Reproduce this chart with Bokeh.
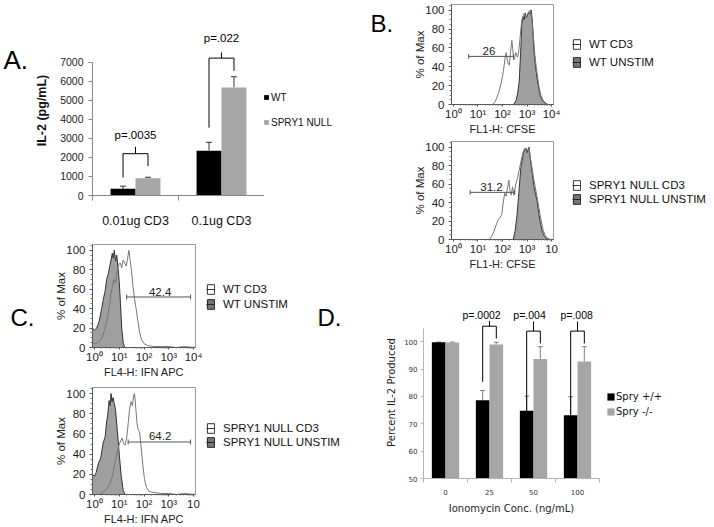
from bokeh.plotting import figure
from bokeh.layouts import row, column
from bokeh.models import (Range1d, FixedTicker, Legend, LegendItem,
                          ColumnDataSource, Whisker, TeeHead)
from bokeh.core.properties import value
from bokeh.embed import file_html
from bokeh.resources import INLINE

ARIAL = "Liberation Sans"
VERD = "DejaVu Sans"
NAN = float("nan")

# ---------------- Panel A data ----------------
a_groups = ["0.01ug CD3", "0.1ug CD3"]
a_wt = [350, 2360]
a_wt_err = [140, 440]
a_null = [910, 5690]
a_null_err = [50, 560]
a_yticks = [0, 1000, 2000, 3000, 4000, 5000, 6000, 7000]
a_series = ["WT", "SPRY1 NULL"]
a_pvals = ["p=.0035", "p=.022"]
a_br_top = [2200, 7230]
a_br_left = [950, 3570]
a_br_right = [1550, 6560]
a_br_tick = [2560, 7530]
a_p_y = [3210, 8300]

# ---------------- Panel B / C histogram data (log10 of intensity, % of max) ----------------
b1_unstim_log = [2.45, 2.55, 2.62, 2.68, 2.74, 2.79, 2.84, 2.88, 2.93, 2.97, 3.02, 3.07, 3.12,
                 3.17, 3.22, 3.28, 3.34, 3.41, 3.48, 3.54, 3.61, 3.67, 3.75, 3.85]
b1_unstim_pct = [0, 4, 12, 24, 55, 86, 93, 90, 97, 92, 95, 98, 96, 100, 88, 59, 42, 28, 17, 10,
                 5, 3, 1, 0]
b1_cd3_log = [1.6, 1.7, 1.78, 1.86, 1.94, 2.0, 2.06, 2.11, 2.15, 2.19, 2.23, 2.28, 2.33, 2.38,
              2.42, 2.46, 2.5, 2.54, 2.58, 2.62, 2.67, 2.71, 2.75, 2.79, 2.84, 2.9, 2.96, 3.02,
              3.08, 3.14, 3.2, 3.26, 3.32, 3.4, 3.48, 3.56, 3.64, 3.74, 3.85]
b1_cd3_pct = [0, 3, 8, 14, 22, 30, 40, 50, 55, 48, 43, 42, 56, 68, 58, 47, 50, 55, 52, 50, 58,
              69, 80, 90, 94, 97, 92, 95, 99, 100, 88, 72, 52, 35, 20, 10, 5, 2, 0]

b2_unstim_log = [2.44, 2.52, 2.59, 2.65, 2.7, 2.75, 2.8, 2.85, 2.9, 2.95, 3.0, 3.04, 3.08, 3.12,
                 3.17, 3.22, 3.28, 3.34, 3.41, 3.48, 3.55, 3.62, 3.7, 3.8, 3.92]
b2_unstim_pct = [0, 10, 26, 45, 62, 78, 85, 93, 97, 99, 94, 97, 100, 90, 80, 70, 58, 50, 42, 28,
                 17, 9, 4, 1, 0]
b2_cd3_log = [1.45, 1.55, 1.64, 1.73, 1.82, 1.9, 1.97, 2.03, 2.09, 2.15, 2.2, 2.26, 2.31, 2.36,
              2.41, 2.46, 2.51, 2.56, 2.62, 2.68, 2.74, 2.8, 2.86, 2.92, 2.98, 3.03, 3.08, 3.14,
              3.2, 3.27, 3.34, 3.42, 3.5, 3.58, 3.66, 3.75, 3.86, 3.95]
b2_cd3_pct = [0, 3, 8, 15, 21, 24, 27, 40, 50, 47, 55, 64, 52, 48, 57, 48, 55, 62, 67, 75, 83,
              90, 96, 99, 95, 97, 100, 88, 78, 66, 56, 44, 32, 20, 10, 4, 1, 0]

c1_unstim_log = [-0.08, 0.0, 0.09, 0.19, 0.29, 0.36, 0.43, 0.49, 0.56, 0.62, 0.67, 0.72, 0.76,
                 0.8, 0.85, 0.9, 0.95, 1.0, 1.05, 1.1, 1.16, 1.22]
c1_unstim_pct = [20, 18, 20, 27, 40, 50, 58, 70, 76, 84, 90, 97, 92, 100, 89, 95, 82, 68, 45,
                 20, 5, 0]
c1_cd3_log = [-0.08, 0.05, 0.16, 0.29, 0.38, 0.46, 0.53, 0.6, 0.66, 0.72, 0.78, 0.85, 0.92,
              0.98, 1.04, 1.1, 1.16, 1.22, 1.28, 1.34, 1.39, 1.44, 1.5, 1.56, 1.62, 1.68, 1.75,
              1.82, 1.9, 2.0, 2.15, 2.4, 2.7, 3.0, 3.3, 3.6, 4.08]
c1_cd3_pct = [4, 4, 6, 9, 16, 23, 32, 42, 55, 62, 70, 66, 80, 85, 87, 82, 90, 87, 84, 92, 100,
              90, 78, 62, 50, 40, 28, 16, 8, 4, 2, 1, 1, 1, 0, 1, 0]

c2_unstim_log = [-0.08, 0.0, 0.07, 0.16, 0.25, 0.35, 0.43, 0.49, 0.54, 0.59, 0.63, 0.67, 0.71,
                 0.75, 0.8, 0.85, 0.92, 1.0, 1.08, 1.16, 1.24]
c2_unstim_pct = [20, 18, 22, 31, 36, 51, 57, 72, 80, 93, 88, 100, 92, 96, 90, 84, 64, 40, 18,
                 4, 0]
c2_cd3_log = [0.2, 0.35, 0.5, 0.62, 0.72, 0.82, 0.92, 1.0, 1.06, 1.12, 1.18, 1.24, 1.3, 1.36,
              1.42, 1.48, 1.53, 1.58, 1.62, 1.67, 1.72, 1.77, 1.82, 1.88, 1.95, 2.02, 2.1, 2.2,
              2.4, 2.7, 3.0, 3.3, 3.6, 4.08]
c2_cd3_pct = [0, 2, 6, 10, 18, 30, 42, 50, 53, 56, 50, 49, 56, 70, 85, 92, 88, 98, 100, 85, 70,
              64, 62, 48, 30, 15, 7, 3, 2, 1, 1, 0, 1, 0]

# gates: (log start, log end, % level), label text, label log position
b1_gate, b1_gate_lbl = (0.62, 2.45, 51), ("26", 1.45)
b2_gate, b2_gate_lbl = (0.68, 2.5, 51), ("31.2", 1.55)
c1_gate, c1_gate_lbl = (1.3, 3.88, 52), ("42.4", 2.65)
c2_gate, c2_gate_lbl = (1.36, 3.88, 52), ("64.2", 2.65)

flow_yticks = [0, 20, 40, 60, 80, 100]
flow_xticks = [1, 10, 100, 1000, 10000]
flow_xlabels = ["10\u2070", "10\u00b9", "10\u00b2", "10\u00b3", "10\u2074"]

# ---------------- Panel D data ----------------
d_conc = ["0", "25", "50", "100"]
d_wt = [99.8, 78.6, 74.8, 73.1]
d_wt_err = [0.1, 3.6, 5.3, 6.8]
d_ko = [99.7, 99.0, 93.7, 92.8]
d_ko_err = [0.2, 0.8, 4.5, 5.4]
d_series = ["Spry +/+", "Spry -/-"]
d_yticks = [50, 60, 70, 80, 90, 100]
d_pvals = ["p=.0002", "p=.004", "p=.008"]
d_p_idx = [1, 2, 3]
d_p_x = [1.32, 2.41, 3.48]
d_p_y = [109.8, 109.8, 109.8]
d_br_top = [105.7, 103.9, 103.9]
d_br_left = [85.4, 72.0, 71.4]
d_br_right = [101.2, 99.4, 99.4]
d_br_tick = [107.6, 107.4, 107.4]

panel_letters = ["A.", "B.", "C.", "D."]


def base_fig(w, h, bl, br, bt, bb, **kw):
    p = figure(width=w, height=h, output_backend="svg", toolbar_location=None, title=None,
               min_border_left=bl, min_border_right=br, min_border_top=bt,
               min_border_bottom=bb, frame_align=False, **kw)
    p.grid.visible = False
    p.background_fill_color = "white"
    p.border_fill_color = "white"
    return p


def blank_fig(w, h):
    p = figure(width=w, height=h, output_backend="svg", toolbar_location=None, title=None,
               x_range=Range1d(0, w), y_range=Range1d(h, 0), x_axis_location=None,
               y_axis_location=None, min_border=0, frame_align=False)
    p.grid.visible = False
    p.outline_line_color = None
    return p


def letter_fig(w, h, text, x, y, size):
    p = blank_fig(w, h)
    p.text(x=[x], y=[y], text=[text], text_font=value(ARIAL), text_font_size=value(size),
           text_baseline="alphabetic", text_align="left", text_color="black")
    return p


def legend_fig(w, h, labels, swatches, loc, glyph, label_h, spacing, standoff, font, size):
    """Blank canvas holding a real bokeh Legend (swatch renderers carry no visible data)."""
    p = blank_fig(w, h)
    items = []
    for lab, sw in zip(labels, swatches):
        fill, line, mid = sw
        rs = [p.patch(x=[NAN], y=[NAN], fill_color=fill, line_color=line)]
        if mid is not None:
            rs.append(p.line(x=[NAN], y=[NAN], line_color=mid, line_width=1))
        items.append(LegendItem(label=lab, renderers=rs))
    p.add_layout(Legend(items=items, location=loc, glyph_width=glyph[0], glyph_height=glyph[1],
                        label_height=label_h, label_width=10, spacing=spacing, padding=0,
                        margin=0, label_standoff=standoff, border_line_color=None,
                        background_fill_alpha=0, label_text_font=font,
                        label_text_font_size=size, label_text_color="#111111"))
    return p


FLOW_SWATCH = [("white", "#333333", "#333333"), ("#777777", "#222222", "#222222")]

# ================= Panel A =================
pA = base_fig(234, 238, 62, 0, 25, 43, x_range=Range1d(0, 2), y_range=Range1d(0, 8947))
pA.outline_line_color = None
off, bw = 0.145, 0.29
a_cx = [i + 0.5 for i in range(len(a_groups))]
srcA_wt = ColumnDataSource(dict(x=[c - off for c in a_cx], top=a_wt,
                                upper=[v + e for v, e in zip(a_wt, a_wt_err)]))
srcA_nu = ColumnDataSource(dict(x=[c + off for c in a_cx], top=a_null,
                                upper=[v + e for v, e in zip(a_null, a_null_err)]))
pA.vbar(x="x", top="top", width=bw, source=srcA_wt, fill_color="#000000", line_color=None)
pA.vbar(x="x", top="top", width=bw, source=srcA_nu, fill_color="#a6a6a6", line_color=None)
for s in (srcA_wt, srcA_nu):
    pA.add_layout(Whisker(source=s, base="x", upper="upper", lower="top", line_color="#333333",
                          upper_head=TeeHead(size=6, line_color="#333333"), lower_head=None))
xsA, ysA = [], []
for i, c in enumerate(a_cx):
    xsA.append([c - off, c - off, c + off, c + off])
    ysA.append([a_br_left[i], a_br_top[i], a_br_top[i], a_br_right[i]])
    xsA.append([c, c])
    ysA.append([a_br_top[i], a_br_tick[i]])
pA.multi_line(xs=xsA, ys=ysA, line_color="black", line_width=1)
pA.text(x=a_cx, y=a_p_y, text=a_pvals, text_align="center", text_baseline="middle",
        text_font=value(ARIAL), text_font_size=value("11.5px"), text_color="black")

ya = pA.yaxis[0]
ya.ticker = FixedTicker(ticks=a_yticks, minor_ticks=[])
ya.bounds = (0, 7000)
ya.axis_line_color = "#868686"
ya.major_tick_line_color = "#868686"
ya.major_tick_out, ya.major_tick_in = 4, 0
ya.major_label_standoff = 5
ya.major_label_text_font = ARIAL
ya.major_label_text_font_size = "10.5px"
ya.major_label_text_color = "#222222"
ya.axis_label = "IL-2 (pg/mL)"
ya.axis_label_text_font = ARIAL
ya.axis_label_text_font_style = "bold"
ya.axis_label_text_font_size = "12.5px"
ya.axis_label_text_color = "#111111"
ya.axis_label_standoff = 8

xa = pA.xaxis[0]
xa.ticker = FixedTicker(ticks=a_cx, minor_ticks=[0, 1, 2])
xa.bounds = (0, 2)
xa.axis_line_color = "#868686"
xa.major_tick_out, xa.major_tick_in = 0, 0
xa.minor_tick_out, xa.minor_tick_in = 5, 0
xa.minor_tick_line_color = "#868686"
xa.major_label_overrides = {c: g for c, g in zip(a_cx, a_groups)}
xa.major_label_standoff = 13
xa.major_label_text_font = ARIAL
xa.major_label_text_font_size = "12.5px"
xa.major_label_text_color = "#111111"

legA = legend_fig(96, 238, a_series, [("#000000", None, None), ("#a6a6a6", None, None)],
                  (-1, 110), (6, 6), 12, 13, 2, ARIAL, "10px")


# ================= Flow panels =================
def flow_panel(w, h, borders, cd3_log, cd3_pct, un_log, un_pct, gate, gate_lbl, xlabel,
               last_tick):
    bl, br, bt, bb = borders
    p = base_fig(w, h, bl, br, bt, bb, x_axis_type="log",
                 x_range=Range1d(10 ** -0.08, 10 ** 4.08), y_range=Range1d(0, 106))
    p.outline_line_color = "#9a9a9a"
    ux = [10 ** v for v in un_log]
    p.varea(x=ux, y1=[0] * len(ux), y2=un_pct, fill_color="#9f9f9f")
    p.line(ux, un_pct, line_color="#333333", line_width=1)
    cx = [10 ** v for v in cd3_log]
    p.line(cx, cd3_pct, line_color="#777777", line_width=1)
    g0, g1, gy = gate
    p.segment(x0=[10 ** g0], y0=[gy], x1=[10 ** g1], y1=[gy], line_color="#555555", line_width=1)
    p.segment(x0=[10 ** g0, 10 ** g1], y0=[gy - 2.5] * 2, x1=[10 ** g0, 10 ** g1],
              y1=[gy + 2.5] * 2, line_color="#555555", line_width=1)
    p.text(x=[10 ** gate_lbl[1]], y=[gy + 1.5], text=[gate_lbl[0]], text_align="center",
           text_baseline="bottom", text_font=value(ARIAL), text_font_size=value("11.5px"),
           text_color="#222222")
    yx = p.yaxis[0]
    yx.ticker = FixedTicker(ticks=flow_yticks, minor_ticks=[v for v in range(0, 106, 5) if v % 20])
    yx.axis_line_color = "#555555"
    yx.major_tick_line_color = "#555555"
    yx.minor_tick_line_color = "#777777"
    yx.major_tick_out, yx.major_tick_in = 3, 0
    yx.minor_tick_out, yx.minor_tick_in = 2, 0
    yx.major_label_standoff = 4
    yx.major_label_text_font = ARIAL
    yx.major_label_text_font_size = "11.5px"
    yx.major_label_text_color = "#222222"
    yx.axis_label = "% of Max"
    yx.axis_label_text_font = ARIAL
    yx.axis_label_text_font_style = "normal"
    yx.axis_label_text_font_size = "11.5px"
    yx.axis_label_text_color = "#222222"
    yx.axis_label_standoff = -4
    xx = p.xaxis[0]
    xx.ticker = FixedTicker(ticks=flow_xticks,
                            minor_ticks=[m * 10 ** k for k in range(4) for m in range(2, 10)])
    labels = list(flow_xlabels)
    labels[-1] = last_tick
    xx.major_label_overrides = {t: l for t, l in zip(flow_xticks, labels)}
    xx.axis_line_color = "#555555"
    xx.major_tick_line_color = "#555555"
    xx.minor_tick_line_color = "#777777"
    xx.major_tick_out, xx.major_tick_in = 2, 0
    xx.minor_tick_out, xx.minor_tick_in = 1, 0
    xx.major_label_standoff = 1
    xx.major_label_text_font = ARIAL
    xx.major_label_text_font_size = "11.5px"
    xx.major_label_text_color = "#222222"
    xx.axis_label = xlabel
    xx.axis_label_text_font = ARIAL
    xx.axis_label_text_font_style = "normal"
    xx.axis_label_text_font_size = "11px"
    xx.axis_label_text_color = "#222222"
    xx.axis_label_standoff = 0
    return p


pB1 = flow_panel(156, 137, (41, 13, 4, 30), b1_cd3_log, b1_cd3_pct, b1_unstim_log,
                 b1_unstim_pct, b1_gate, b1_gate_lbl, "FL1-H: CFSE", flow_xlabels[-1])
legB1 = legend_fig(148, 137, ["WT CD3", "WT UNSTIM"], FLOW_SWATCH, (6, 69), (9, 12), 13, 5, 8,
                   ARIAL, "11.5px")
pB2 = flow_panel(206, 135, (91, 13, 4, 30), b2_cd3_log, b2_cd3_pct, b2_unstim_log,
                 b2_unstim_pct, b2_gate, b2_gate_lbl, "FL1-H: CFSE", "10")
legB2 = legend_fig(148, 135, ["SPRY1 NULL CD3", "SPRY1 NULL UNSTIM"], FLOW_SWATCH, (6, 67),
                   (9, 12), 13, 1, 8, ARIAL, "11.5px")
pC1 = flow_panel(169, 142, (55, 11, 6, 31), c1_cd3_log, c1_cd3_pct, c1_unstim_log,
                 c1_unstim_pct, c1_gate, c1_gate_lbl, "FL4-H: IFN APC", flow_xlabels[-1])
legC1 = legend_fig(109, 142, ["WT CD3", "WT UNSTIM"], FLOW_SWATCH, (0, 70), (9, 12), 13, 2, 8,
                   ARIAL, "11.5px")
pC2 = flow_panel(206, 147, (92, 11, 7, 33), c2_cd3_log, c2_cd3_pct, c2_unstim_log,
                 c2_unstim_pct, c2_gate, c2_gate_lbl, "FL4-H: IFN APC", "10")
legC2 = legend_fig(154, 147, ["SPRY1 NULL CD3", "SPRY1 NULL UNSTIM"], FLOW_SWATCH, (0, 79),
                   (9, 12), 13, 1, 8, ARIAL, "11.5px")

# ================= Panel D =================
pD = base_fig(240, 255, 63, 1, 34, 49, x_range=Range1d(0, 4), y_range=Range1d(50, 112.9))
pD.outline_line_color = None
doff, dbw = 0.155, 0.31
d_cx = [i + 0.5 for i in range(len(d_conc))]
srcD_wt = ColumnDataSource(dict(x=[c - doff for c in d_cx], top=d_wt,
                                upper=[v + e for v, e in zip(d_wt, d_wt_err)]))
srcD_ko = ColumnDataSource(dict(x=[c + doff for c in d_cx], top=d_ko,
                                upper=[v + e for v, e in zip(d_ko, d_ko_err)]))
pD.vbar(x="x", top="top", bottom=50, width=dbw, source=srcD_wt,
        fill_color="#000000", line_color=None)
pD.vbar(x="x", top="top", bottom=50, width=dbw, source=srcD_ko,
        fill_color="#a6a6a6", line_color=None)
for s in (srcD_wt, srcD_ko):
    pD.add_layout(Whisker(source=s, base="x", upper="upper", lower="top", line_color="#808080",
                          upper_head=TeeHead(size=5, line_color="#808080"), lower_head=None))
xsD, ysD = [], []
for k, i in enumerate(d_p_idx):
    c = d_cx[i]
    xsD.append([c - doff, c - doff, c + doff, c + doff])
    ysD.append([d_br_left[k], d_br_top[k], d_br_top[k], d_br_right[k]])
    xsD.append([c, c])
    ysD.append([d_br_top[k], d_br_tick[k]])
pD.multi_line(xs=xsD, ys=ysD, line_color="black", line_width=1)
pD.text(x=d_p_x, y=d_p_y, text=d_pvals, text_align="center", text_baseline="middle",
        text_font=value(ARIAL), text_font_size=value("10.5px"), text_color="black")

yd = pD.yaxis[0]
yd.ticker = FixedTicker(ticks=d_yticks, minor_ticks=[])
yd.bounds = (50, 105)
yd.axis_line_color = "#b5b5b5"
yd.major_tick_line_color = "#b5b5b5"
yd.major_tick_out, yd.major_tick_in = 3, 0
yd.major_label_standoff = 3
yd.major_label_text_font = VERD
yd.major_label_text_font_size = "7px"
yd.major_label_text_color = "#333333"
yd.axis_label = "Percent IL-2 Produced"
yd.axis_label_text_font = VERD
yd.axis_label_text_font_style = "normal"
yd.axis_label_text_font_size = "10px"
yd.axis_label_text_color = "#222222"
yd.axis_label_standoff = 4

xd = pD.xaxis[0]
xd.ticker = FixedTicker(ticks=d_cx, minor_ticks=[0, 1, 2, 3, 4])
xd.bounds = (0, 4)
xd.axis_line_color = "#b5b5b5"
xd.major_tick_out, xd.major_tick_in = 0, 0
xd.minor_tick_out, xd.minor_tick_in = 4, 0
xd.minor_tick_line_color = "#b5b5b5"
xd.major_label_overrides = {c: t for c, t in zip(d_cx, d_conc)}
xd.major_label_standoff = 6
xd.major_label_text_font = VERD
xd.major_label_text_font_size = "7px"
xd.major_label_text_color = "#333333"
xd.axis_label = "Ionomycin Conc. (ng/mL)"
xd.axis_label_text_font = VERD
xd.axis_label_text_font_style = "normal"
xd.axis_label_text_font_size = "10px"
xd.axis_label_text_color = "#222222"
xd.axis_label_standoff = 5

legD = legend_fig(114, 255, d_series, [("#000000", None, None), ("#a6a6a6", None, None)],
                  (6, 110), (9, 9), 12, 3, 1, VERD, "10px")

# ================= letters & layout =================
lA = letter_fig(30, 238, panel_letters[0], 3, 59, "26px")
lB = letter_fig(50, 137, panel_letters[1], 10, 23, "24px")
lC = letter_fig(37, 142, panel_letters[2], 10, 79, "24px")
lD = letter_fig(45, 142, panel_letters[3], 2, 79, "24px")

left = column(row(lA, pA, legA), row(lC, pC1, legC1, lD), row(pC2, legC2))
right = column(row(lB, pB1, legB1), row(pB2, legB2), row(pD, legD))
layout = row(left, right)
open("out.html", "w").write(file_html(layout, INLINE))
